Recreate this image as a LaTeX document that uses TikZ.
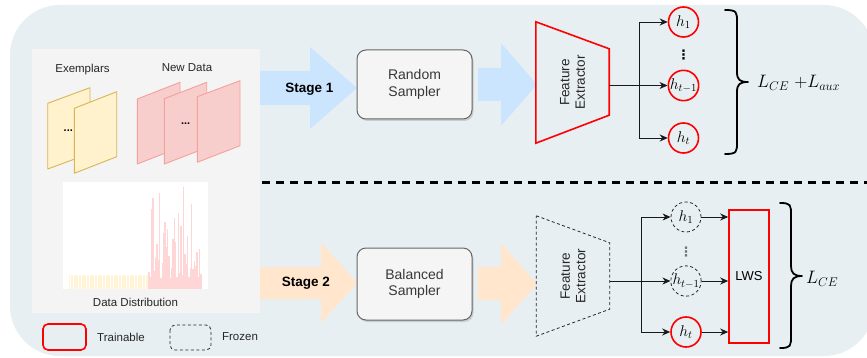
\RequirePackage{fix-cm}
\documentclass[tikz,border=0pt]{standalone}
\usepackage[no-math]{fontspec}
\setmainfont{Liberation Sans}
\newfontfamily\symbolfont{DejaVu Sans}
\usetikzlibrary{arrows.meta,calc,shadows}

\definecolor{bgblue}{HTML}{E8EFF2}
\definecolor{panelgray}{HTML}{F4F4F4}
\definecolor{stageblue}{HTML}{CCE5FF}
\definecolor{stageorange}{HTML}{FFE6CC}
\definecolor{oldfill}{HTML}{FFF2CC}
\definecolor{oldline}{HTML}{D6B656}
\definecolor{newfill}{HTML}{F8CECC}
\definecolor{newline}{HTML}{F4A09C}
\definecolor{histpink}{HTML}{FFD6D6}
\definecolor{histyellow}{HTML}{FFF4D6}
\definecolor{trainred}{HTML}{FF0000}

\begin{document}
\begin{tikzpicture}[x=1pt,y=-1pt,
  lbl/.style={inner sep=0pt, font=\fontsize{11.5}{13}\selectfont, text=black!85},
  stagelbl/.style={inner sep=0pt, font=\fontsize{13.5}{15}\selectfont\bfseries},
  sampler/.style={draw=black!60, fill=black!4, rounded corners=9pt, line width=1pt,
    minimum width=115pt, align=center, text=black!78,
    font=\fontsize{14}{16.5}\selectfont,
    drop shadow={opacity=0.3, shadow xshift=1.5pt, shadow yshift=-2pt}},
  fetext/.style={align=center, inner sep=0pt, text=black!85,
    font=\fontsize{13.5}{15.5}\selectfont},
  febox/.style={inner sep=0pt, minimum width=73pt},
  trainline/.style={draw=trainred, line width=1.6pt},
  frozenline/.style={draw=black!85, line width=0.8pt, dash pattern=on 3pt off 2.5pt},
  hred/.style={circle, trainline, minimum size=30pt, inner sep=0pt,
    font=\fontsize{15.5}{17}\selectfont},
  hfrozen/.style={circle, frozenline, minimum size=30pt, inner sep=0pt,
    font=\fontsize{15.5}{17}\selectfont},
  vdotslbl/.style={inner sep=0pt, font=\symbolfont\bfseries\fontsize{13}{14}\selectfont},
  arr/.style={draw=black!90, line width=0.9pt, -{Stealth[length=8pt,width=7pt,inset=2.5pt]}},
  bracepath/.style={draw=black, line width=1.8pt, line cap=round, line join=round},
  losslbl/.style={inner sep=0pt, font=\fontsize{18}{20}\selectfont},
  sheetold/.style={fill=oldfill, draw=oldline, line width=0.9pt, line join=round},
  sheetnew/.style={fill=newfill, draw=newline, line width=0.9pt, line join=round},
  dotslbl/.style={inner sep=0pt, font=\fontsize{11}{12}\selectfont\bfseries}]

\useasboundingbox (0,0) rectangle (867,358);

% rounded backdrop
\fill[bgblue, rounded corners=50pt] (10,5) rectangle (874,356);

% stage arrows (start hidden under the data panel)
\fill[stageblue] (255,71) -- (310,71) -- (310,47) -- (357,88) -- (310,129)
  -- (310,105) -- (255,105) -- cycle;
\fill[stageorange] (255,267) -- (321,267) -- (321,242) -- (357,283) -- (321,323)
  -- (321,299) -- (255,299) -- cycle;
\fill[stageblue] (478,68) -- (501,68) -- (501,43) -- (537,84.5) -- (501,126)
  -- (501,101) -- (478,101) -- cycle;
\fill[stageorange] (478,267) -- (501,267) -- (501,243) -- (537,284) -- (501,325)
  -- (501,300) -- (478,300) -- cycle;
\node[stagelbl] (st1) at (309.5,89) {Stage 1};
\node[stagelbl] (st2) at (306,283.5) {Stage 2};

% data panel
\node[fill=panelgray, minimum width=228pt, minimum height=264pt, inner sep=0pt]
  (data) at (146,181) {};
\node[lbl] (exlbl) at (82.5,69.5) {Exemplars};
\node[lbl] (newlbl) at (187,67.5) {New Data};

% exemplar sheets
\draw[sheetold] (47.7,103.3) -- (90,87.7) -- (90,153.4) -- (47.7,169) -- cycle;
\draw[sheetold] (74.3,108.3) -- (116.7,91.7) -- (116.7,156.7) -- (74.3,173.3) -- cycle;
\node[dotslbl] (exdots) at (68.3,130.5) {...};

% new-data sheets
\draw[sheetnew] (137.3,99) -- (180,82.3) -- (180,147.3) -- (137.3,164) -- cycle;
\draw[sheetnew] (164.3,98.7) -- (206.7,82.3) -- (206.7,147.7) -- (164.3,164) -- cycle;
\draw[sheetnew] (197.3,96.7) -- (240,80.7) -- (240,145.7) -- (197.3,162.3) -- cycle;
\node[dotslbl] (newdots) at (185.7,124) {...};

% class histogram
\fill[white] (63,182) rectangle (208,289);
\foreach \hx in {69,70.6,...,148}
  \fill[histyellow] (\hx,275) rectangle (\hx+1.1,288.5);
\foreach \hx/\ht in {149.0/271.7, 150.0/276.7, 151.7/209, 153.0/198.3, 154.3/270.7,
    155.7/258.3, 157.0/244.3, 158.3/260, 159.7/192.7, 161.0/278.3, 162.3/263.3,
    163.7/232.7, 165.0/221.7, 166.3/246.7, 167.7/229, 169.0/256, 170.3/278.3,
    171.7/267.7, 173.0/239.3, 174.3/217.7, 175.7/241.7, 177.0/276.7, 178.3/212.7,
    179.7/272.7, 181.0/225.7, 182.3/275, 183.7/187.3, 185.0/254, 186.3/264.3,
    187.7/236, 189.0/276.7, 190.3/268.3, 191.7/204, 193.0/269.3, 194.3/261,
    195.7/266, 197.0/251.7, 198.3/276.7, 199.7/249.3, 201.0/274}
  \fill[histpink] (\hx-0.6,288.5) rectangle (\hx+0.6,\ht);
\node[lbl] (distlbl) at (135.5,302) {Data Distribution};

% legend
\draw[trainline, rounded corners=5pt] (43,324) rectangle (86,350);
\node[lbl] (trainlbl) at (121,337) {Trainable};
\draw[frozenline, rounded corners=5pt] (170,325) rectangle (211,350);
\node[lbl] (frozenlbl) at (240,337) {Frozen};

% stage separator
\draw[line width=2.2pt, dash pattern=on 8pt off 6pt] (262,182.5) -- (867,182.5);

% samplers
\node[sampler, minimum height=69pt] (rs) at (414.5,84.5) {Random\\Sampler};
\node[sampler, minimum height=72pt] (bs) at (414.5,284) {Balanced\\Sampler};

% feature extractors
\node[febox, minimum height=121pt] (fe1) at (572.5,82.5) {};
\draw[trainline, line join=miter] (fe1.north west) -- ($(fe1.north east)+(0,27)$)
  -- ($(fe1.south east)+(0,-28)$) -- (fe1.south west) -- cycle;
\node[fetext, rotate=90] (fe1t) at (fe1) {Feature\\Extractor};

\node[febox, minimum height=120pt] (fe2) at (573,276) {};
\draw[frozenline] (fe2.north west) -- ($(fe2.north east)+(0,27)$)
  -- ($(fe2.south east)+(0,-27)$) -- (fe2.south west) -- cycle;
\node[fetext, rotate=90] (fe2t) at (fe2) {Feature\\Extractor};

% stage-1 heads
\node[hred] (a1) at (683.5,22) {$h_1$};
\node[hred] (a2) at (683.5,85.5) {$h_{t-1}$};
\node[hred] (a3) at (683.5,138) {$h_t$};
\node[vdotslbl] (adots) at (683.5,55) {⋮};

\coordinate (br1) at (639,85.5);
\draw[arr] (fe1.east |- a2) -- (a2);
\draw[arr] (br1) |- (a1);
\draw[arr] (br1) |- (a3);

% stage-2 heads
\node[hfrozen] (b1) at (686,217) {$h_1$};
\node[hfrozen] (b2) at (686,281) {$h_{t-1}$};
\node[hred] (b3) at (686,332) {$h_t$};
\node[vdotslbl, text=black!55] (bdots) at (686,252) {⋮};

\coordinate (br2) at (641,281);
\draw[arr] (fe2.east |- b2) -- (b2);
\draw[arr] (br2) |- (b1);
\draw[arr] (br2) |- (b3);

% LWS re-weighting
\node[trainline, minimum width=40pt, minimum height=133pt, inner sep=0pt,
  font=\fontsize{13}{15}\selectfont] (lws) at (749,276.5) {LWS};
\draw[arr] (b1) -- (b1 -| lws.west);
\draw[arr] (b2) -- (b2 -| lws.west);
\draw[arr] (b3) -- (b3 -| lws.west);

% losses
\draw[bracepath] (725,10) .. controls (737,10) and (737,12) .. (737,22) -- (737,72)
  .. controls (737,80) and (740,82) .. (748,82)
  .. controls (740,82) and (737,84) .. (737,92) -- (737,142)
  .. controls (737,152) and (737,154) .. (725,154);
\node[losslbl, anchor=base west] (loss1) at (757,87.5) {$L_{CE}\;{+}L_{aux}$};

\draw[bracepath] (780,203) .. controls (791,203) and (791,205) .. (791,215) -- (791,266)
  .. controls (791,273) and (794,276) .. (802,276)
  .. controls (794,276) and (791,279) .. (791,286) -- (791,336)
  .. controls (791,346) and (791,348) .. (780,348);
\node[losslbl, anchor=base west] (loss2) at (806,283.5) {$L_{CE}$};

\end{tikzpicture}
\end{document}
